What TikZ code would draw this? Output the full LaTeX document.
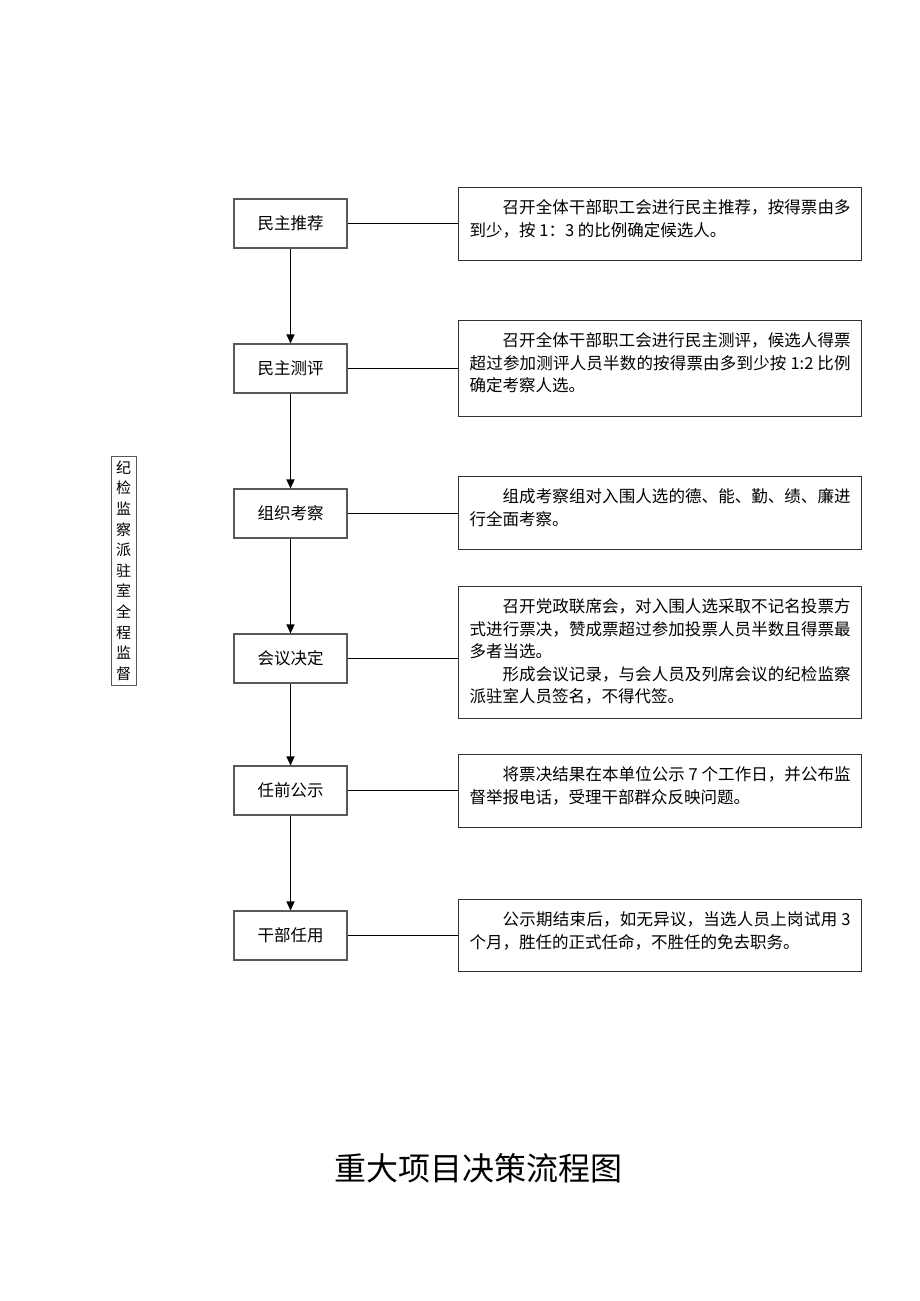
\documentclass[tikz,border=0pt]{standalone}
\usepackage{fontspec}
\setmainfont{Noto Sans CJK SC}
\usetikzlibrary{positioning,arrows.meta}
\XeTeXlinebreaklocale "zh"
\XeTeXlinebreakskip=0pt plus 1pt
\newcommand{\desctext}[2]{\parbox[c][#1][t]{381pt}{\fontsize{16.5}{22.5}\selectfont #2}}

\begin{document}
\begin{tikzpicture}[x=1pt, y=-1pt,
		stepbox/.style={draw=black!65, line width=1.1pt, minimum width=113pt, minimum height=49pt, inner sep=0pt, font=\fontsize{16.5}{16.5}\selectfont},
		descbox/.style={draw=black!80, line width=1.3pt, anchor=north west, inner xsep=11pt, inner ysep=12pt},
		sidebox/.style={draw=black!65, line width=1pt, minimum width=25pt, minimum height=229pt, inner sep=0pt, align=center, font=\fontsize{15}{20.6}\selectfont},
		flow/.style={line width=1.4pt, -{Triangle[length=9pt,width=8pt]}},
		link/.style={line width=1.4pt}]
	\fill[white] (0,0) rectangle (920,1301);
	\useasboundingbox (0,0) rectangle (920,1301);
	% steps on the left
	\node[stepbox] (s1) at (290.5,223.5) {民主推荐};
	\node[stepbox] (s2) at (290.5,368.5) {民主测评};
	\node[stepbox] (s3) at (290.5,513.5) {组织考察};
	\node[stepbox] (s4) at (290.5,658.5) {会议决定};
	\node[stepbox] (s5) at (290.5,790.5) {任前公示};
	\node[stepbox] (s6) at (290.5,935.5) {干部任用};
	% descriptions on the right
	\node[descbox] (d1) at (458,187) {\desctext{49pt}{\hspace*{2em}召开全体干部职工会进行民主推荐，按得票由多\linebreak 到少，按 1：3 的比例确定候选人。}};
	\node[descbox] (d2) at (458,320) {\desctext{72pt}{\hspace*{2em}召开全体干部职工会进行民主测评，候选人得票\linebreak 超过参加测评人员半数的按得票由多到少按 1:2 比例\linebreak 确定考察人选。}};
	\node[descbox] (d3) at (458,476) {\desctext{49pt}{\hspace*{2em}组成考察组对入围人选的德、能、勤、绩、廉进\linebreak 行全面考察。}};
	\node[descbox] (d4) at (458,586) {\desctext{108pt}{\hspace*{2em}召开党政联席会，对入围人选采取不记名投票方\linebreak 式进行票决，赞成票超过参加投票人员半数且得票最\linebreak 多者当选。\par\hspace*{2em}形成会议记录，与会人员及列席会议的纪检监察\linebreak 派驻室人员签名，不得代签。}};
	\node[descbox] (d5) at (458,754) {\desctext{49pt}{\hspace*{2em}将票决结果在本单位公示 7 个工作日，并公布监\linebreak 督举报电话，受理干部群众反映问题。}};
	\node[descbox] (d6) at (458,899) {\desctext{48pt}{\hspace*{2em}公示期结束后，如无异议，当选人员上岗试用 3\linebreak 个月，胜任的正式任命，不胜任的免去职务。}};
	% supervision
	\node[sidebox] (jc) at (123.5,570.5) {纪\\检\\监\\察\\派\\驻\\室\\全\\程\\监\\督};
	% connectors
	\foreach \i in {1,...,6}
		\draw[link] (s\i.east) -- (s\i.east -| d\i.west);
	\foreach \i/\j in {1/2,2/3,3/4,4/5,5/6}
		\draw[flow] (s\i.south) -- (s\j.north);
	\node[font=\fontsize{32}{32}\selectfont] (title) at (478,1168) {重大项目决策流程图};
\end{tikzpicture}
\end{document}
